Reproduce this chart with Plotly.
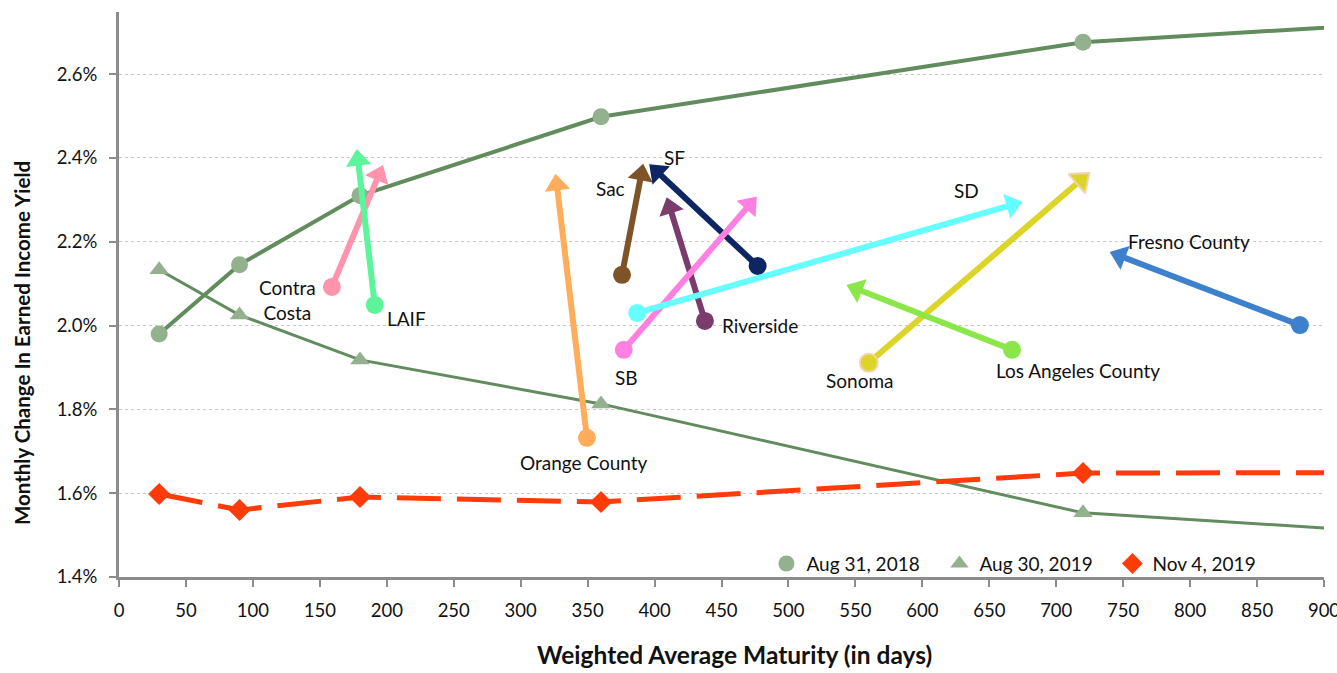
import plotly.graph_objects as go

# Treasury-style benchmark curves (days to maturity vs. yield, %)
curve_days = [30, 90, 180, 360, 720, 1080]
yield_aug_2018 = [1.980, 2.145, 2.310, 2.498, 2.676, 2.745]
yield_aug_2019 = [2.133, 2.025, 1.918, 1.813, 1.553, 1.481]
yield_nov_2019 = [1.598, 1.560, 1.591, 1.579, 1.648, 1.650]

# County pools: start point (WAM, yield) -> end point (WAM, yield)
pools = ["Contra<br>Costa", "LAIF", "Orange County", "Sac", "SF", "Riverside",
         "SB", "SD", "Sonoma", "Los Angeles County", "Fresno County"]
start_wam = [159, 191, 349.5, 375.7, 477, 437.6, 377, 387, 560, 667, 882]
start_yield = [2.092, 2.049, 1.732, 2.121, 2.142, 2.011, 1.942, 2.030, 1.911, 1.942, 2.001]
end_wam = [194, 178.5, 327, 390, 402, 411.5, 471, 667, 718.5, 551, 747.6]
end_yield = [2.359, 2.395, 2.336, 2.360, 2.367, 2.281, 2.288, 2.288, 2.347, 2.087, 2.166]

pool_colors = ["#FF94AC", "#5CF59B", "#FFAD5B", "#7F5328", "#0D2562", "#7A3C6D",
               "#FF80E0", "#66FFFF", "#DDD428", "#8BE64A", "#3D80CC"]
pool_outline = [None, None, None, None, None, None, None, None, "#F0D6B0", None, None]

# label placement (data coordinates)
label_x = [126, 215, 347, 367, 415, 479, 379, 633, 553, 716, 799]
label_y = [2.061, 2.016, 1.672, 2.328, 2.402, 2.001, 1.877, 2.321, 1.868, 1.892, 2.200]

legend_names = ["Aug 31, 2018", "Aug 30, 2019", "Nov 4, 2019"]

CURVE_LINE = "#628C5E"
CURVE_MARK = "#93B18E"
RED = "#FF3B0A"
FONT = "Lato"
TEXT = "#111111"
CLEAR = "rgba(0,0,0,0)"

fig = go.Figure()

fig.add_trace(go.Scatter(
    x=curve_days, y=yield_aug_2018, mode="lines+markers", showlegend=False,
    line=dict(color=CURVE_LINE, width=4),
    marker=dict(symbol="circle", size=17, color=CURVE_MARK)))
fig.add_trace(go.Scatter(
    x=curve_days, y=yield_aug_2019, mode="lines+markers", showlegend=False,
    line=dict(color=CURVE_LINE, width=3),
    marker=dict(symbol="triangle-up", size=17, color=CURVE_MARK)))
fig.add_trace(go.Scatter(
    x=curve_days, y=yield_nov_2019, mode="lines+markers", showlegend=False,
    line=dict(color=RED, width=5, dash="44px,16px"),
    marker=dict(symbol="diamond", size=17, color=RED)))

for i, name in enumerate(pools):
    color = pool_colors[i]
    outline = pool_outline[i]
    xs = [start_wam[i], end_wam[i]]
    ys = [start_yield[i], end_yield[i]]
    # shaft
    fig.add_trace(go.Scatter(x=xs, y=ys, mode="lines", showlegend=False,
                             line=dict(color=color, width=6), hoverinfo="skip"))
    # arrowhead, oriented along the shaft (first point left transparent)
    fig.add_trace(go.Scatter(
        x=xs, y=ys, mode="markers", showlegend=False, hoverinfo="skip",
        marker=dict(symbol="triangle-up", size=22, angleref="previous",
                    color=[CLEAR, color],
                    line=dict(color=[CLEAR, outline or color], width=2 if outline else 0))))
    # starting point
    fig.add_trace(go.Scatter(
        x=[start_wam[i]], y=[start_yield[i]], mode="markers", showlegend=False,
        name=name.replace("<br>", " "),
        marker=dict(symbol="circle", size=18, color=color,
                    line=dict(color=outline or color, width=2 if outline else 0))))
    fig.add_annotation(x=label_x[i], y=label_y[i], text=name, showarrow=False,
                       font=dict(family=FONT, size=19, color=TEXT),
                       xanchor="center", yanchor="middle", align="center")

# legend entries show markers only
legend_styles = [("circle", CURVE_MARK), ("triangle-up", CURVE_MARK), ("diamond", RED)]
for name, (sym, col) in zip(legend_names, legend_styles):
    fig.add_trace(go.Scatter(x=[None], y=[None], mode="markers", name=name,
                             marker=dict(symbol=sym, size=18, color=col)))

# axis titles
fig.add_annotation(xref="paper", yref="paper", x=0.511, y=-0.138,
                   text="<b>Weighted Average Maturity (in days)</b>", showarrow=False,
                   font=dict(family=FONT, size=24.5, color=TEXT),
                   xanchor="center", yanchor="middle")
fig.add_annotation(xref="paper", yref="paper", x=-0.0805, y=0.414, textangle=-90,
                   text="<b>Monthly Change In Earned Income Yield</b>", showarrow=False,
                   font=dict(family=FONT, size=20.5, color=TEXT),
                   xanchor="center", yanchor="middle")

fig.update_layout(
    width=1337, height=673,
    margin=dict(l=119, r=13, t=12, b=96),
    paper_bgcolor="white", plot_bgcolor="white",
    font=dict(family=FONT, size=19, color=TEXT),
    legend=dict(orientation="h", x=0.968, xanchor="right", y=-0.01, yanchor="bottom",
                bgcolor="rgba(0,0,0,0)", font=dict(size=19),
                entrywidth=128, entrywidthmode="pixels"),
)

fig.update_xaxes(
    range=[0, 900], dtick=50, tick0=0, showgrid=False, zeroline=False,
    showline=True, linecolor="#8C8C8C", linewidth=3, automargin=False,
    ticks="outside", ticklen=7, tickcolor="#8C8C8C", tickwidth=2,
    ticklabelstandoff=8, ticklabeloverflow="allow",
    tickfont=dict(family=FONT, size=18.5, color=TEXT),
)
fig.update_yaxes(
    range=[1.4, 2.748], dtick=0.2, tick0=1.4, tickformat=".1f", ticksuffix="%",
    showgrid=True, gridcolor="#C8C8C8", griddash="dot", gridwidth=1,
    zeroline=False, showline=True, linecolor="#8C8C8C", linewidth=3, automargin=False,
    ticks="outside", ticklen=7, tickcolor="#8C8C8C", tickwidth=2,
    ticklabelstandoff=8,
    tickfont=dict(family=FONT, size=18.5, color=TEXT),
)

fig.write_html("out.html")
